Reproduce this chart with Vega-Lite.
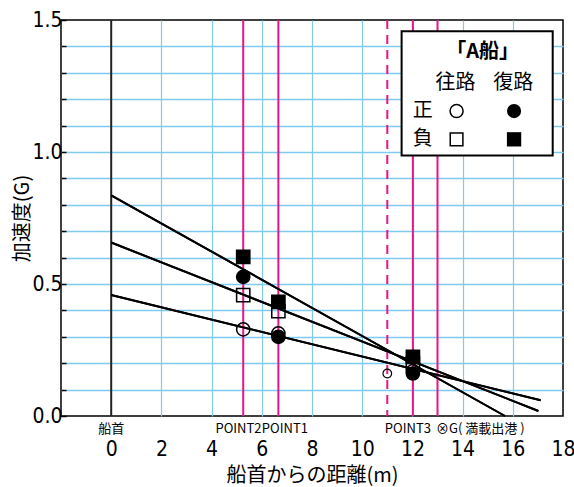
{
  "$schema": "https://vega.github.io/schema/vega-lite/v6.json",
  "width": 502,
  "height": 396,
  "autosize": {"type": "none"},
  "padding": {"left": 61, "top": 20, "right": 11, "bottom": 71},
  "background": "white",
  "config": {
    "view": {"stroke": "black", "strokeWidth": 1.5},
    "text": {"font": "Noto Sans CJK JP"}
  },
  "datasets": {
    "zero": [{"x": 0}],
    "solid": [{"x": 5.26, "name": "POINT2"}, {"x": 6.66, "name": "POINT1"}, {"x": 12.02, "name": "POINT3"}, {"x": 13.0, "name": "G"}],
    "dashed": [{"x": 11.0}],
    "fits": [
      {"fit": "L1", "x": 0, "y": 0.836}, {"fit": "L1", "x": 15.69, "y": 0.0},
      {"fit": "L2", "x": 0, "y": 0.657}, {"fit": "L2", "x": 17.02, "y": 0.019},
      {"fit": "L3", "x": 0, "y": 0.458}, {"fit": "L3", "x": 17.11, "y": 0.06}
    ],
    "pts": [
      {"route": "往路", "sign": "正", "x": 5.26, "y": 0.328},
      {"route": "往路", "sign": "正", "x": 6.66, "y": 0.313},
      {"route": "往路", "sign": "正", "x": 12.02, "y": 0.17},
      {"route": "往路", "sign": "負", "x": 5.26, "y": 0.458},
      {"route": "往路", "sign": "負", "x": 6.66, "y": 0.397},
      {"route": "往路", "sign": "負", "x": 12.02, "y": 0.2},
      {"route": "復路", "sign": "正", "x": 5.26, "y": 0.527},
      {"route": "復路", "sign": "正", "x": 6.66, "y": 0.3},
      {"route": "復路", "sign": "正", "x": 12.02, "y": 0.161},
      {"route": "復路", "sign": "負", "x": 5.26, "y": 0.603},
      {"route": "復路", "sign": "負", "x": 6.66, "y": 0.432},
      {"route": "復路", "sign": "負", "x": 12.02, "y": 0.224}
    ],
    "g": [{"x": 11.0, "y": 0.161}],
    "notes": [
      {"label": "船首", "x": 0, "align": "c"},
      {"label": "POINT2", "x": 5.07, "align": "c"},
      {"label": "POINT1", "x": 6.92, "align": "c"},
      {"label": "POINT3", "x": 11.82, "align": "c"},
      {"label": "⊗G( 満載出港 )", "x": 12.94, "align": "l"}
    ]
  },
  "layer": [
    {"data": {"name": "fits"}, "mark": {"type": "line", "color": "black", "strokeWidth": 2},
      "encoding": {
        "x": {
          "field": "x", "type": "quantitative",
          "scale": {"domain": [-2, 18], "nice": false, "zero": false},
          "axis": {
            "values": [0,1,2,3,4,5,6,7,8,9,10,11,12,13,14,15,16,17,18],
            "title": "船首からの距離(m)",
            "domain": false,
            "grid": true,
            "gridColor": {"condition": {"test": "datum.value % 2 == 0 && datum.value > 0 && datum.value < 18", "value": "#7fcbef"}, "value": "transparent"},
            "gridWidth": 1.2,
            "tickSize": -5,
            "tickWidth": 1.5,
            "tickColor": {"condition": {"test": "datum.value % 2 == 0 || datum.value < 0", "value": "transparent"}, "value": "black"},
            "labelExpr": "datum.value % 2 == 0 && datum.value >= 0 ? datum.label : ''",
            "labelFont": "Liberation Sans Narrow, DejaVu Sans Condensed, sans-serif",
            "labelFontSize": 21,
            "labelColor": "black",
            "labelPadding": 27,
            "labelFlush": false,
            "labelOverlap": false,
            "titleFont": "Noto Sans CJK JP",
            "titleFontSize": 20,
            "titleFontWeight": "normal",
            "titleColor": "black",
            "titlePadding": 6
          }
        },
        "y": {
          "field": "y", "type": "quantitative",
          "scale": {"domain": [0, 1.5], "nice": false, "zero": false},
          "axis": {
            "tickCount": 15,
            "title": "加速度(G)",
            "domain": false,
            "grid": true,
            "gridColor": {"condition": {"test": "datum.value > 0.01 && datum.value < 1.49", "value": "#7fcbef"}, "value": "transparent"},
            "gridWidth": 1.5,
            "tickSize": -5,
            "tickWidth": 1.5,
            "tickColor": "black",
            "labelExpr": "round(datum.value * 10) % 5 == 0 ? format(datum.value, '.1f') : ''",
            "labelFont": "Liberation Sans Narrow, DejaVu Sans Condensed, sans-serif",
            "labelFontSize": 21,
            "labelColor": "black",
            "labelPadding": 4,
            "labelFlush": false,
            "labelOverlap": false,
            "titleFont": "Noto Sans CJK JP",
            "titleFontSize": 20,
            "titleFontWeight": "normal",
            "titleColor": "black",
            "titlePadding": -1
          }
        },
        "detail": {"field": "fit"}
      }},
    {"data": {"name": "solid"}, "mark": {"type": "rule", "color": "#e5168a", "strokeWidth": 2}, "encoding": {"x": {"field": "x", "type": "quantitative"}, "y": {"value": 0}, "y2": {"value": 396}}},
    {"data": {"name": "dashed"}, "mark": {"type": "rule", "color": "#e5168a", "strokeWidth": 2, "strokeDash": [9, 6]}, "encoding": {"x": {"field": "x", "type": "quantitative"}, "y": {"value": 0}, "y2": {"value": 396}}},
    {"data": {"name": "zero"}, "mark": {"type": "rule", "color": "#222222", "strokeWidth": 2}, "encoding": {"x": {"field": "x", "type": "quantitative"}, "y": {"value": 0}, "y2": {"value": 396}}},
    {"data": {"name": "fits"}, "mark": {"type": "line", "color": "black", "strokeWidth": 2}, "encoding": {"x": {"field": "x", "type": "quantitative"}, "y": {"field": "y", "type": "quantitative"}, "detail": {"field": "fit"}}},
    {"data": {"name": "pts"}, "mark": {"type": "point", "filled": true, "stroke": "black", "strokeWidth": 1.5, "opacity": 1},
      "encoding": {
        "x": {"field": "x", "type": "quantitative"},
        "y": {"field": "y", "type": "quantitative"},
        "shape": {"field": "sign", "type": "nominal", "scale": {"domain": ["正", "負"], "range": ["circle", "square"]}, "legend": null},
        "fill": {"field": "route", "type": "nominal", "scale": {"domain": ["往路", "復路"], "range": ["transparent", "black"]}, "legend": null},
        "size": {"field": "sign", "type": "nominal", "scale": {"domain": ["正", "負"], "range": [175, 175]}, "legend": null}
      }},
    {"data": {"name": "g"}, "mark": {"type": "point", "shape": "circle", "filled": false, "stroke": "black", "strokeWidth": 1.2, "size": 75, "opacity": 1}, "encoding": {"x": {"field": "x", "type": "quantitative"}, "y": {"field": "y", "type": "quantitative"}}},
    {"data": {"name": "notes"}, "transform": [{"filter": "datum.align == 'c'"}], "mark": {"type": "text", "fontSize": 13, "align": "center", "baseline": "middle", "color": "black", "font": "Noto Sans CJK JP"}, "encoding": {"x": {"field": "x", "type": "quantitative"}, "y": {"datum": -0.048, "type": "quantitative"}, "text": {"field": "label"}}},
    {"data": {"name": "notes"}, "transform": [{"filter": "datum.align == 'l'"}], "mark": {"type": "text", "fontSize": 13, "align": "left", "baseline": "middle", "color": "black", "font": "Noto Sans CJK JP"}, "encoding": {"x": {"field": "x", "type": "quantitative"}, "y": {"datum": -0.048, "type": "quantitative"}, "text": {"field": "label"}}},
    {"data": {"values": [{}]}, "mark": {"type": "rect", "fill": "white", "stroke": "black", "strokeWidth": 2}, "encoding": {"x": {"datum": 11.57, "type": "quantitative"}, "x2": {"datum": 17.59}, "y": {"datum": 1.457, "type": "quantitative"}, "y2": {"datum": 0.987}}},
    {"data": {"values": [{}]}, "mark": {"type": "text", "text": "「A船」", "fontSize": 20, "fontWeight": "bold", "align": "center", "baseline": "middle", "color": "black"}, "encoding": {"x": {"datum": 14.8, "type": "quantitative"}, "y": {"datum": 1.378, "type": "quantitative"}}},
    {"data": {"values": [{}]}, "mark": {"type": "text", "text": "往路", "fontSize": 20, "align": "center", "baseline": "middle", "color": "black"}, "encoding": {"x": {"datum": 13.72, "type": "quantitative"}, "y": {"datum": 1.261, "type": "quantitative"}}},
    {"data": {"values": [{}]}, "mark": {"type": "text", "text": "復路", "fontSize": 20, "align": "center", "baseline": "middle", "color": "black"}, "encoding": {"x": {"datum": 16.02, "type": "quantitative"}, "y": {"datum": 1.261, "type": "quantitative"}}},
    {"data": {"values": [{}]}, "mark": {"type": "text", "text": "正", "fontSize": 20, "align": "center", "baseline": "middle", "color": "black"}, "encoding": {"x": {"datum": 12.41, "type": "quantitative"}, "y": {"datum": 1.155, "type": "quantitative"}}},
    {"data": {"values": [{}]}, "mark": {"type": "text", "text": "負", "fontSize": 20, "align": "center", "baseline": "middle", "color": "black"}, "encoding": {"x": {"datum": 12.41, "type": "quantitative"}, "y": {"datum": 1.048, "type": "quantitative"}}},
    {"data": {"values": [{}]}, "mark": {"type": "point", "shape": "circle", "filled": false, "stroke": "black", "strokeWidth": 1.5, "size": 170, "opacity": 1}, "encoding": {"x": {"datum": 13.76, "type": "quantitative"}, "y": {"datum": 1.155, "type": "quantitative"}}},
    {"data": {"values": [{}]}, "mark": {"type": "point", "shape": "circle", "filled": true, "color": "black", "size": 200, "opacity": 1}, "encoding": {"x": {"datum": 16.05, "type": "quantitative"}, "y": {"datum": 1.155, "type": "quantitative"}}},
    {"data": {"values": [{}]}, "mark": {"type": "point", "shape": "square", "filled": false, "stroke": "black", "strokeWidth": 1.5, "size": 160, "opacity": 1}, "encoding": {"x": {"datum": 13.76, "type": "quantitative"}, "y": {"datum": 1.048, "type": "quantitative"}}},
    {"data": {"values": [{}]}, "mark": {"type": "point", "shape": "square", "filled": true, "color": "black", "size": 205, "opacity": 1}, "encoding": {"x": {"datum": 16.05, "type": "quantitative"}, "y": {"datum": 1.048, "type": "quantitative"}}}
  ]
}
